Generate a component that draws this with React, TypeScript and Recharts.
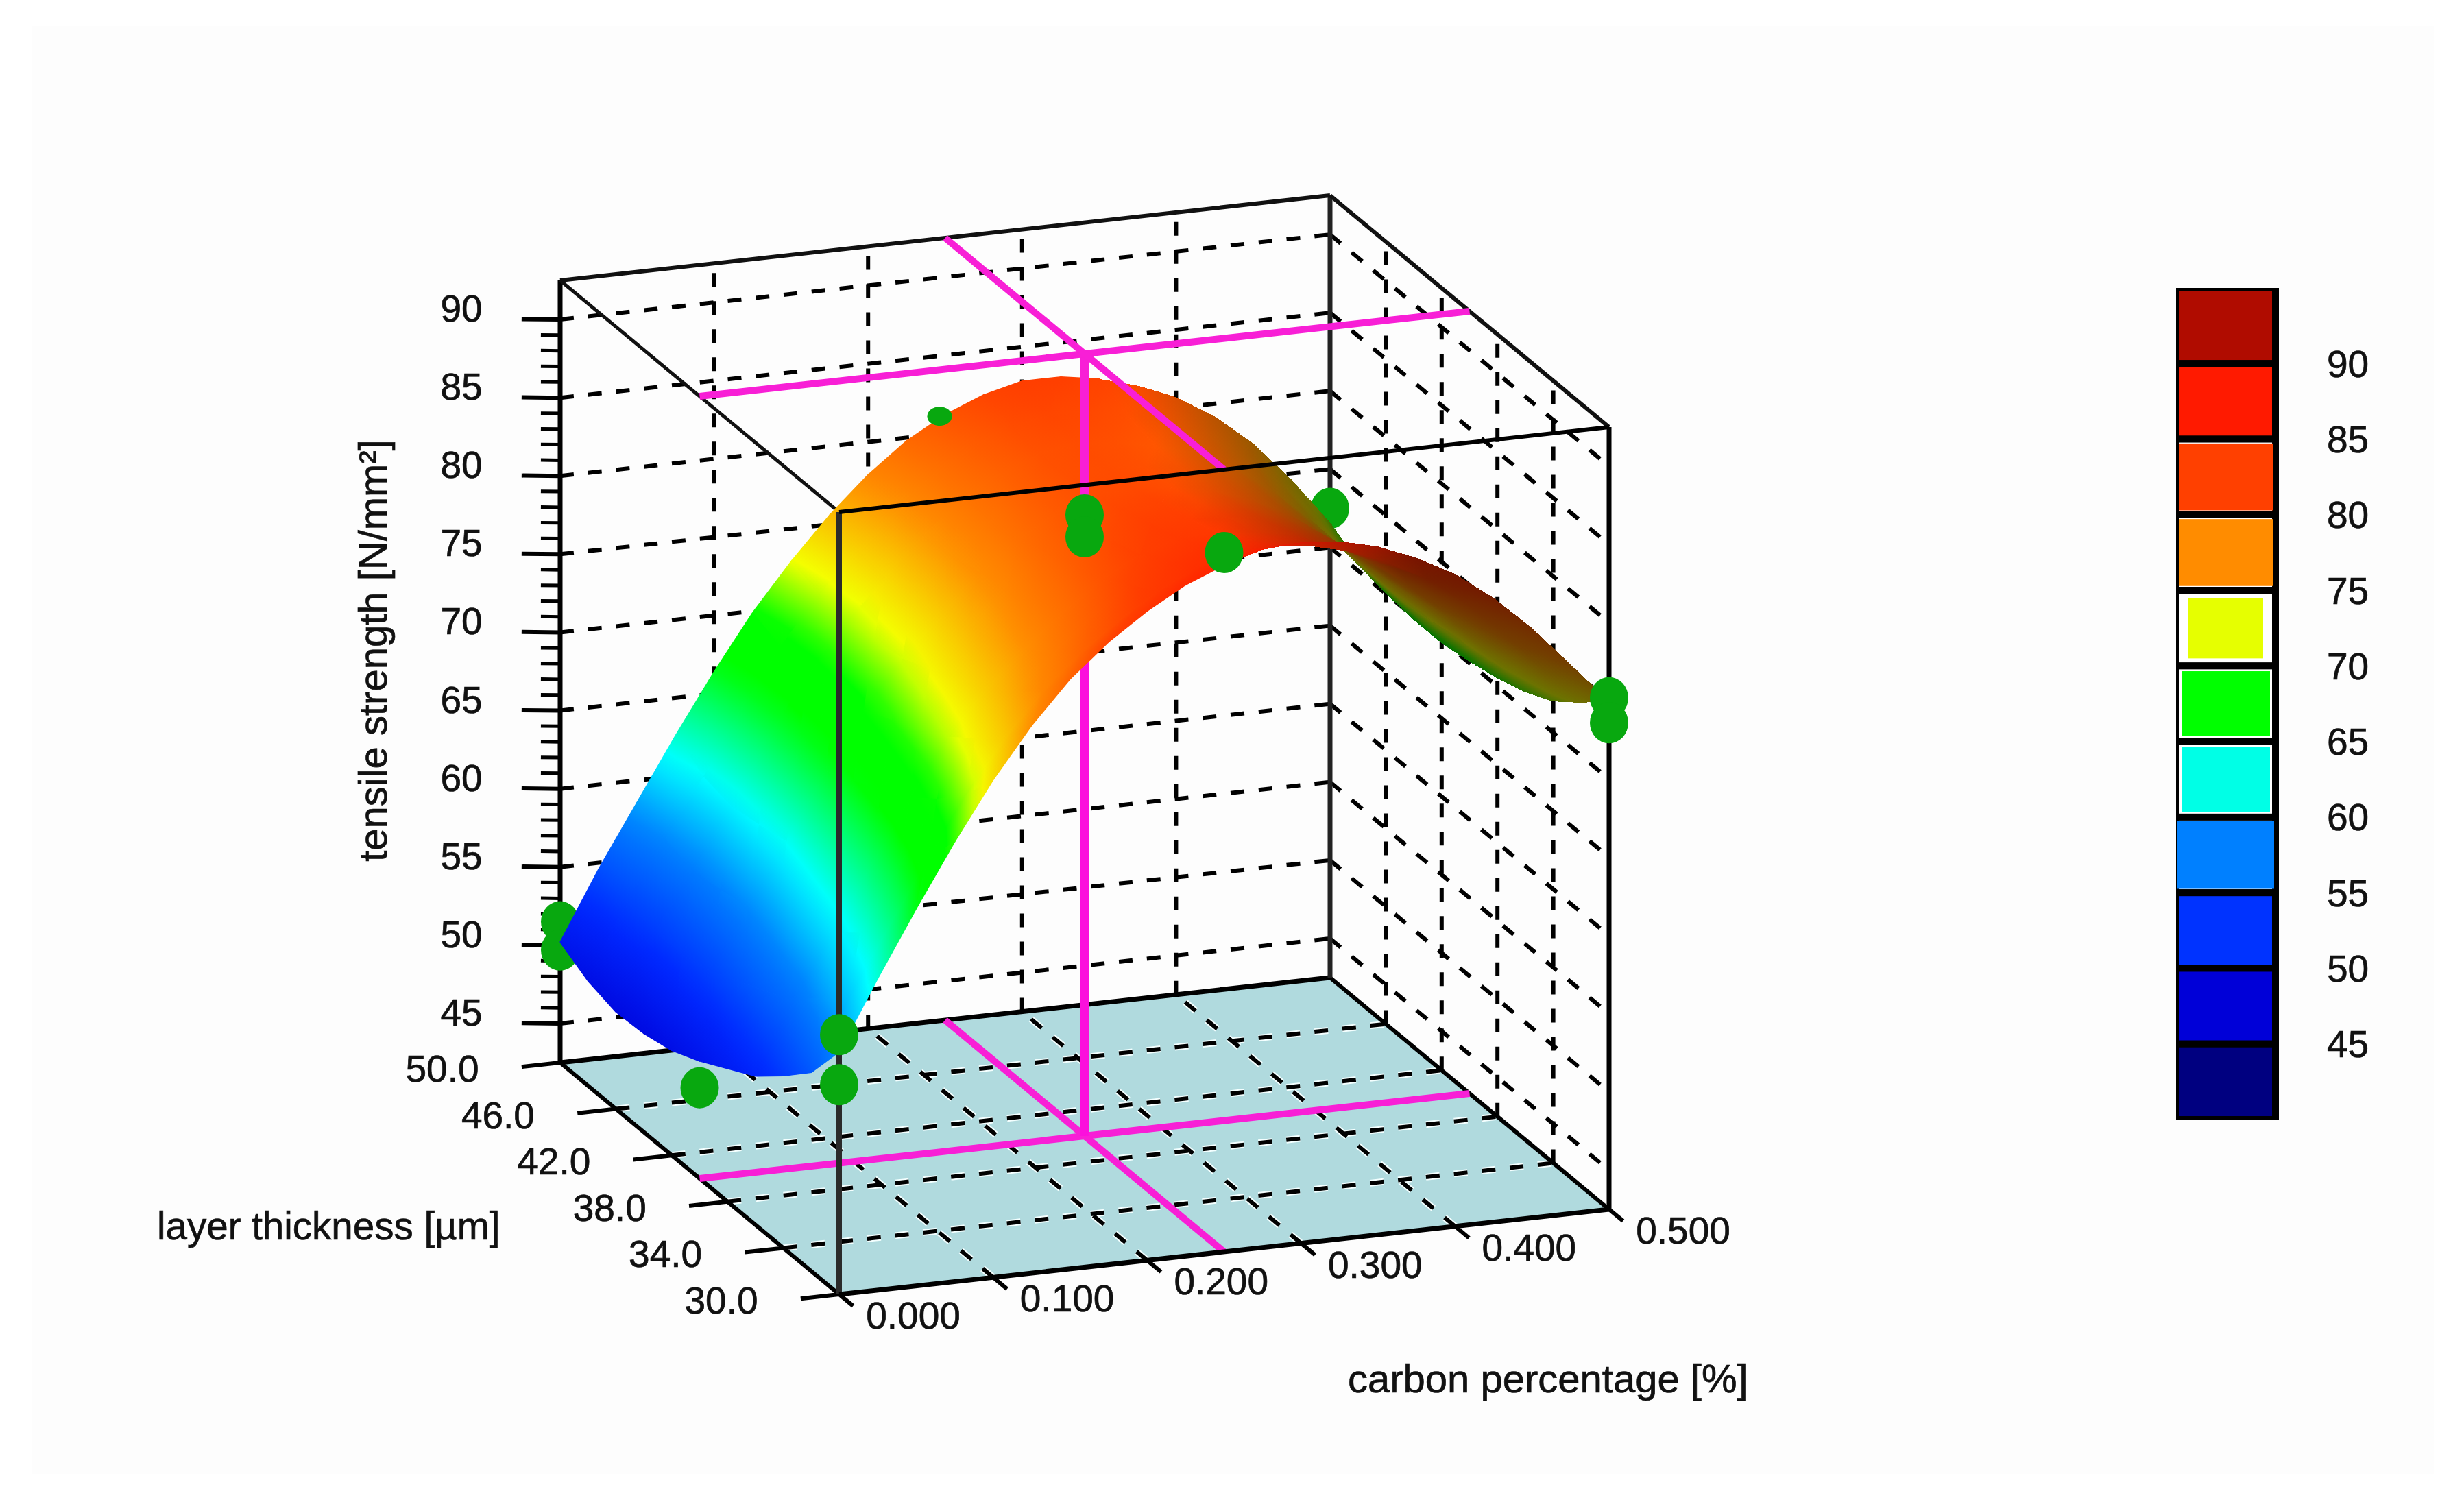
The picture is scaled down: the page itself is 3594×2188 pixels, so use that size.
import React from "react";
import { ReferenceArea, Scatter, ScatterChart, XAxis, YAxis } from "recharts";

const WIDTH = 3594;
const HEIGHT = 2188;
const FONT = "'Liberation Sans', Arial, sans-serif";

// axes of the box
const carbonTicks = [0, 0.1, 0.2, 0.3, 0.4, 0.5];
const carbonLabels = ["0.000", "0.100", "0.200", "0.300", "0.400", "0.500"];
const thicknessTicks = [30, 34, 38, 42, 46, 50];
const thicknessLabels = ["30.0", "34.0", "38.0", "42.0", "46.0", "50.0"];
const strengthTicks = [45, 50, 55, 60, 65, 70, 75, 80, 85, 90];
const strengthMinorTicks = [
  46, 47, 48, 49, 51, 52, 53, 54, 56, 57, 58, 59, 61, 62, 63, 64, 66, 67, 68, 69, 71, 72, 73, 74,
  76, 77, 78, 79, 81, 82, 83, 84, 86, 87, 88, 89,
];

// surface, one row per layer thickness, one value per carbon step
const carbonSteps = [
  0, 0.025, 0.05, 0.075, 0.1, 0.125, 0.15, 0.175, 0.2, 0.225, 0.25, 0.275, 0.3, 0.325, 0.35, 0.375,
  0.4, 0.425, 0.45, 0.475, 0.5,
];
const thicknessSteps = [30, 32, 34, 36, 38, 40, 42, 44, 46, 48, 50];
const t30 = [58, 62.4, 66.6, 70.6, 74.3, 77.5, 80.2, 82.3, 84, 85.4, 86.4, 87.1, 87.3, 87.1, 86.5, 85.5, 84.2, 82.4, 80.2, 77.6, 75];
const t32 = [55.2, 59.8, 63.9, 67.9, 71.8, 75.1, 77.9, 80.1, 81.9, 83.5, 84.7, 85.5, 85.6, 85.3, 84.7, 83.7, 82.4, 80.6, 78.4, 75.8, 73.4];
const t34 = [53.5, 58.2, 62.1, 66.1, 70.1, 73.7, 76.4, 78.6, 80.6, 82.4, 83.7, 84.4, 84.5, 84.2, 83.7, 82.7, 81.5, 79.6, 77.4, 74.8, 72];
const t36 = [52, 56.6, 60.6, 64.6, 68.7, 72.3, 75.1, 77.4, 79.5, 81.3, 82.6, 83.4, 83.5, 83.2, 82.8, 81.8, 80.6, 78.7, 76.5, 73.9, 71.1];
const t38 = [51, 55.7, 59.6, 63.6, 67.7, 71.3, 74.2, 76.6, 78.8, 80.6, 82, 82.8, 82.9, 82.7, 82.2, 81.3, 80.1, 78.2, 76, 73.4, 70.5];
const t40 = [50, 54.8, 58.6, 62.6, 66.8, 70.4, 73.4, 75.8, 78, 80, 81.3, 82.2, 82.4, 82.1, 81.7, 80.8, 79.6, 77.8, 75.6, 73, 70.1];
const t42 = [49.2, 54, 57.8, 61.7, 66, 69.6, 72.6, 75.1, 77.5, 79.4, 80.8, 81.7, 81.9, 81.7, 81.2, 80.4, 79.2, 77.4, 75.3, 72.7, 69.8];
const t44 = [48.8, 53.6, 57.4, 61.3, 65.6, 69.2, 72.3, 74.7, 77.2, 79.1, 80.5, 81.5, 81.7, 81.5, 81.1, 80.3, 79.2, 77.4, 75.3, 72.7, 69.8];
const t46 = [48.7, 53.5, 57.2, 61, 65.4, 68.9, 72, 74.5, 77, 79, 80.3, 81.4, 81.7, 81.5, 81.1, 80.3, 79.2, 77.5, 75.4, 72.8, 70];
const t48 = [49.2, 54, 57.7, 61.4, 65.6, 69.2, 72.2, 74.9, 77.2, 79.2, 80.6, 81.7, 82.1, 82, 81.6, 80.9, 79.8, 78.2, 76.1, 73.5, 70.6];
const t50 = [50.2, 54.6, 58.6, 62.6, 66.4, 69.9, 72.9, 75.6, 77.9, 79.8, 81.2, 82.2, 82.8, 82.8, 82.4, 81.7, 80.7, 79.2, 77.2, 74.6, 71.6];
const surfaceRows = [t30, t32, t34, t36, t38, t40, t42, t44, t46, t48, t50];

// measured design points: [carbon, thickness, strength]
const pointsBehind = [
  [0, 50, 51.5],
  [0, 50, 49.7],
  [0.5, 50, 72.5],
];
const pointsInFront = [
  [0, 40, 48.3],
  [0, 30, 59.1],
  [0, 30, 55.9],
  [0.25, 40, 82.2],
  [0.25, 40, 80.8],
  [0.25, 30, 87.2],
  [0.5, 30, 75.2],
  [0.5, 30, 73.6],
];
const pointsMostlyHidden = [[0.25, 50, 81.1]];

// optimum cross hair
const optimumCarbon = 0.25;
const optimumThickness = 40;
const optimumStrength = 81.5;

// legend bands, top to bottom
const bandLows = [90, 85, 80, 75, 70, 65, 60, 55, 50, 45, 40];
const bandColors = ["#b00c00", "#ff1a00", "#ff4000", "#ff8c00", "#e6ff00", "#00ff00", "#00ffe6", "#0080ff", "#0033ff", "#0000d8", "#000080"];
const bandHalos = [0, 0, 4, 4, 18, 8, 8, 2, 0, 0, 0];

// colour ramp of the surface
const rampLevels = [42.5, 47.5, 52.5, 57.5, 61.5, 67, 70, 73, 77.5, 82.5, 87.5, 92.5];
const rampColors = ["#000080", "#0000d8", "#0028ff", "#0080ff", "#00ffff", "#00ff00", "#00ff00", "#f4ff00", "#ff8c00", "#ff4000", "#ff1a00", "#b00c00"];

const Z_FLOOR = 42.5;
const Z_TOP = 92.5;

type Pt = { x: number; y: number };

function project(carbon: number, thickness: number, strength: number): Pt {
  return {
    x: 1224 + (carbon / 0.5) * 1123 - ((thickness - 30) / 20) * 407,
    y: 1888 - (carbon / 0.5) * 124 - ((thickness - 30) / 20) * 338 - (strength - Z_FLOOR) * 22.82,
  };
}

function hexToRgb(hex: string) {
  return [1, 3, 5].map((i) => parseInt(hex.slice(i, i + 2), 16));
}

function colorFor(strength: number) {
  let i = 0;
  while (i < rampLevels.length - 2 && strength > rampLevels[i + 1]) i++;
  const f = Math.min(Math.max((strength - rampLevels[i]) / (rampLevels[i + 1] - rampLevels[i]), 0), 1);
  const a = hexToRgb(rampColors[i]);
  const b = hexToRgb(rampColors[i + 1]);
  const rgb = a.map((v, k) => Math.round(v + (b[k] - v) * f));
  return `rgb(${rgb[0]},${rgb[1]},${rgb[2]})`;
}

// the far slope turns away from the light
function shadeFor(carbon: number, thickness: number) {
  const start = 0.27 + (thickness - 30) * 0.005;
  return Math.max(0.45, 1 - Math.max(0, carbon - start) * 5);
}

// gradient vector of a value that is linear over a screen triangle
function gradientLine(p: Pt[], v: number[]) {
  const dx1 = p[1].x - p[0].x;
  const dy1 = p[1].y - p[0].y;
  const dx2 = p[2].x - p[0].x;
  const dy2 = p[2].y - p[0].y;
  const det = dx1 * dy2 - dx2 * dy1;
  const lo = v.indexOf(Math.min(...v));
  const range = Math.max(...v) - Math.min(...v);
  if (Math.abs(det) < 1 || range < 0.001) return { x1: p[lo].x, y1: p[lo].y, x2: p[lo].x + 1, y2: p[lo].y };
  const dv1 = v[1] - v[0];
  const dv2 = v[2] - v[0];
  const gx = (dv1 * dy2 - dv2 * dy1) / det;
  const gy = (dx1 * dv2 - dx2 * dv1) / det;
  const s = range / (gx * gx + gy * gy);
  return { x1: p[lo].x, y1: p[lo].y, x2: p[lo].x + gx * s, y2: p[lo].y + gy * s };
}

type Tri = {
  id: string;
  corners: Pt[];
  line: { x1: number; y1: number; x2: number; y2: number };
  stops: { offset: number; color: string }[];
  shadeLine: { x1: number; y1: number; x2: number; y2: number } | null;
  shadeLo: number;
  shadeHi: number;
};

function makeTri(id: string, cells: number[][]): Tri {
  const corners = cells.map((n) => project(n[0], n[1], n[2]));
  const zs = cells.map((n) => n[2]);
  const zMin = Math.min(...zs);
  const zMax = Math.max(...zs);
  const count = Math.max(2, Math.ceil(zMax - zMin) + 1);
  const stops = [];
  for (let i = 0; i < count; i++) {
    const f = i / (count - 1);
    stops.push({ offset: f, color: colorFor(zMin + (zMax - zMin) * f) });
  }
  const shades = cells.map((n) => shadeFor(n[0], n[1]));
  const shaded = Math.min(...shades) < 1;
  return {
    id,
    corners: [...corners, corners[0]],
    line: gradientLine(corners, zs),
    stops,
    shadeLine: shaded ? gradientLine(corners, shades) : null,
    shadeLo: Math.min(...shades),
    shadeHi: Math.max(...shades),
  };
}

// back to front so the nearer part of the surface covers the rest
function buildTris() {
  const tris: Tri[] = [];
  for (let r = thicknessSteps.length - 2; r >= 0; r--) {
    for (let c = carbonSteps.length - 2; c >= 0; c--) {
      const a = [carbonSteps[c], thicknessSteps[r], surfaceRows[r][c]];
      const b = [carbonSteps[c + 1], thicknessSteps[r], surfaceRows[r][c + 1]];
      const d = [carbonSteps[c + 1], thicknessSteps[r + 1], surfaceRows[r + 1][c + 1]];
      const e = [carbonSteps[c], thicknessSteps[r + 1], surfaceRows[r + 1][c]];
      tris.push(makeTri(`a${r}-${c}`, [e, d, a]));
      tris.push(makeTri(`b${r}-${c}`, [d, b, a]));
    }
  }
  return tris;
}
const tris = buildTris();

const noDot = () => null;
const DASH = "20 21";

function seg(key: string, from: number[], to: number[], stroke: string, strokeWidth: number, dash?: string) {
  return (
    <Scatter
      key={key}
      data={[project(from[0], from[1], from[2]), project(to[0], to[1], to[2])]}
      line={{ stroke, strokeWidth, strokeDasharray: dash, fill: "none" }}
      lineJointType="linear"
      shape={noDot}
      isAnimationActive={false}
    />
  );
}

function labels(key: string, points: { x: number; y: number; text: string }[], dx: number, dy: number) {
  return (
    <Scatter
      key={key}
      data={points}
      isAnimationActive={false}
      shape={(p: any) => (
        <text x={p.cx + dx} y={p.cy + dy} textAnchor="middle" dominantBaseline="central" fontFamily={FONT} fontSize={55} fill="#111" stroke="#111" strokeWidth={0.7}>
          {p.payload.text}
        </text>
      )}
    />
  );
}

const blob = (p: any) => <ellipse cx={p.cx} cy={p.cy} rx={28} ry={30} fill="#08a80f" />;
const smallBlob = (p: any) => <ellipse cx={p.cx - 8} cy={p.cy} rx={18} ry={14} fill="#08a80f" />;

function bandShape(color: string, halo: number) {
  return (p: any) => (
    <g>
      <rect x={p.x} y={p.y} width={p.width} height={p.height} fill={halo ? "#ffffff" : color} stroke="#000" strokeWidth={10} />
      {halo > 0 && (
        <rect x={p.x + halo} y={p.y + 5 + halo / 3} width={p.width - halo * 2} height={p.height - 10 - (halo * 2) / 3} fill={color} />
      )}
    </g>
  );
}

function Legend3D() {
  return (
    <div style={{ position: "absolute", left: 3174, top: 420 }}>
      <ScatterChart width={345} height={1213} margin={{ top: 0, right: 0, bottom: 0, left: 0 }}>
        <XAxis type="number" dataKey="x" domain={[0, 1]} hide />
        <YAxis
          type="number"
          dataKey="y"
          orientation="right"
          width={200}
          domain={[40, 95]}
          ticks={strengthTicks}
          interval={0}
          axisLine={false}
          tickLine={false}
          tickSize={0}
          tickMargin={75}
          tick={{ fontFamily: FONT, fontSize: 55, fill: "#111", stroke: "#111", strokeWidth: 0.7 }}
          tickFormatter={(v: number) => String(v)}
        />
        {bandLows.map((low, i) => (
          <ReferenceArea key={low} x1={0} x2={1} y1={low} y2={low + 5} ifOverflow="visible" shape={bandShape(bandColors[i], bandHalos[i])} />
        ))}
        <Scatter data={bandLows.map((low) => ({ x: 0, y: low }))} shape={noDot} isAnimationActive={false} />
      </ScatterChart>
    </div>
  );
}

export default function App() {
  const floorCorners = [project(0, 30, Z_FLOOR), project(0.5, 30, Z_FLOOR), project(0.5, 50, Z_FLOOR), project(0, 50, Z_FLOOR), project(0, 30, Z_FLOOR)];
  return (
    <div style={{ position: "absolute", left: 0, top: 0, width: WIDTH, height: HEIGHT, background: "#fff", overflow: "hidden" }}>
      <div style={{ position: "absolute", left: 47, top: 38, width: 3503, height: 2112, background: "#fdfdfd" }} />
      <div style={{ position: "absolute", left: 0, top: 0 }}>
        <ScatterChart width={WIDTH} height={HEIGHT} margin={{ top: 0, right: 0, bottom: 0, left: 0 }}>
          <defs>
            {tris.map((q) => (
              <linearGradient key={q.id} id={q.id} gradientUnits="userSpaceOnUse" {...q.line}>
                {q.stops.map((s) => (
                  <stop key={s.offset} offset={s.offset} stopColor={s.color} />
                ))}
              </linearGradient>
            ))}
            {tris
              .filter((q) => q.shadeLine)
              .map((q) => (
                <linearGradient key={q.id} id={`s${q.id}`} gradientUnits="userSpaceOnUse" {...q.shadeLine}>
                  <stop offset="0" stopColor="#000" stopOpacity={1 - q.shadeLo} />
                  <stop offset="1" stopColor="#000" stopOpacity={1 - q.shadeHi} />
                </linearGradient>
              ))}
          </defs>
          <XAxis type="number" dataKey="x" domain={[0, WIDTH]} hide allowDataOverflow />
          <YAxis type="number" dataKey="y" domain={[0, HEIGHT]} reversed hide allowDataOverflow />

          {/* floor */}
          <Scatter data={floorCorners} line={{ fill: "#b0dade", stroke: "none" }} lineJointType="linear" shape={noDot} isAnimationActive={false} />

          {/* back walls */}
          {strengthTicks.map((z) => seg(`wl${z}`, [0, 50, z], [0.5, 50, z], "#000", 6, DASH))}
          {strengthTicks.map((z) => seg(`wr${z}`, [0.5, 50, z], [0.5, 30, z], "#000", 6, DASH))}
          {carbonTicks.slice(1, 5).map((c) => seg(`wv${c}`, [c, 50, Z_FLOOR], [c, 50, Z_TOP], "#000", 6, DASH))}
          {thicknessTicks.slice(1, 5).map((t) => seg(`wh${t}`, [0.5, t, Z_FLOOR], [0.5, t, Z_TOP], "#000", 6, DASH))}

          {/* floor grid */}
          {carbonTicks.slice(1, 5).map((c) => seg(`hc${c}`, [c, 30, Z_FLOOR], [c, 50, Z_FLOOR], "#f4ffff", 10, DASH))}
          {thicknessTicks.slice(1, 5).map((t) => seg(`ht${t}`, [0, t, Z_FLOOR], [0.5, t, Z_FLOOR], "#f4ffff", 10, DASH))}
          {carbonTicks.slice(1, 5).map((c) => seg(`fc${c}`, [c, 30, Z_FLOOR], [c, 50, Z_FLOOR], "#000", 6, DASH))}
          {thicknessTicks.slice(1, 5).map((t) => seg(`ft${t}`, [0, t, Z_FLOOR], [0.5, t, Z_FLOOR], "#000", 6, DASH))}

          {/* box edges behind the surface */}
          {seg("b1", [0, 50, Z_FLOOR], [0.5, 50, Z_FLOOR], "#000", 7)}
          {seg("b2", [0.5, 50, Z_FLOOR], [0.5, 30, Z_FLOOR], "#000", 6)}
          {seg("b3", [0, 50, Z_FLOOR], [0, 50, Z_TOP], "#000", 7)}
          {seg("b4", [0.5, 50, Z_FLOOR], [0.5, 50, Z_TOP], "#222", 7)}
          {seg("b5", [0.5, 30, Z_FLOOR], [0.5, 30, Z_TOP], "#000", 7)}
          {seg("b6", [0, 50, Z_TOP], [0.5, 50, Z_TOP], "#111", 6)}
          {seg("b7", [0.5, 50, Z_TOP], [0.5, 30, Z_TOP], "#111", 6)}
          {seg("b8", [0, 30, Z_TOP], [0, 50, Z_TOP], "#111", 5)}
          {seg("b9", [0, 30, Z_FLOOR], [0, 50, Z_FLOOR], "#000", 6)}

          {/* ticks */}
          {strengthTicks.map((z) => seg(`zt${z}`, [0, 50, z], [-0.025, 50, z + 0.3], "#000", 6))}
          {strengthMinorTicks.map((z) => seg(`zm${z}`, [0, 50, z], [-0.0125, 50, z + 0.15], "#000", 5))}
          {thicknessTicks.map((t) => seg(`tt${t}`, [0, t, Z_FLOOR], [-0.025, t, Z_FLOOR], "#000", 6))}
          {carbonTicks.map((c) => seg(`ct${c}`, [c, 30, Z_FLOOR], [c, 29, Z_FLOOR], "#000", 6))}

          {/* cross hair below the surface */}
          {seg("m1", [0, optimumThickness, Z_FLOOR], [0.5, optimumThickness, Z_FLOOR], "#f81fd6", 10)}
          {seg("m2", [optimumCarbon, 30, Z_FLOOR], [optimumCarbon, 50, Z_FLOOR], "#f81fd6", 10)}
          {seg("m3", [optimumCarbon, optimumThickness, Z_FLOOR], [optimumCarbon, optimumThickness, optimumStrength], "#fb10dc", 12)}

          <Scatter data={pointsBehind.map((p) => project(p[0], p[1], p[2]))} shape={blob} isAnimationActive={false} />

          {/* surface */}
          {tris.map((q) => (
            <React.Fragment key={q.id}>
              <Scatter
                data={q.corners}
                line={
                  q.shadeLine
                    ? { fill: `url(#${q.id})`, stroke: "none", shapeRendering: "crispEdges" }
                    : { fill: `url(#${q.id})`, stroke: `url(#${q.id})`, strokeWidth: 1.5 }
                }
                lineJointType="linear"
                shape={noDot}
                isAnimationActive={false}
              />
              {q.shadeLine && (
                <Scatter
                  data={q.corners}
                  line={{ fill: `url(#s${q.id})`, stroke: "none", shapeRendering: "crispEdges" }}
                  lineJointType="linear"
                  shape={noDot}
                  isAnimationActive={false}
                />
              )}
            </React.Fragment>
          ))}

          <Scatter data={pointsMostlyHidden.map((p) => project(p[0], p[1], p[2]))} shape={smallBlob} isAnimationActive={false} />

          {/* front of the box and upper cross hair */}
          {seg("m4", [optimumCarbon, optimumThickness, optimumStrength], [optimumCarbon, optimumThickness, Z_TOP], "#f81fd6", 12)}
          {seg("m5", [0, optimumThickness, Z_TOP], [0.5, optimumThickness, Z_TOP], "#f81fd6", 10)}
          {seg("m6", [optimumCarbon, 30, Z_TOP], [optimumCarbon, 50, Z_TOP], "#f81fd6", 10)}
          {seg("f1", [0, 30, Z_FLOOR], [0, 30, Z_TOP], "#2a2a2a", 8)}
          {seg("f2", [0, 30, Z_TOP], [0.5, 30, Z_TOP], "#000", 6)}
          {seg("f3", [0, 30, Z_FLOOR], [0.5, 30, Z_FLOOR], "#000", 7)}

          <Scatter data={pointsInFront.map((p) => project(p[0], p[1], p[2]))} shape={blob} isAnimationActive={false} />

          {/* tick labels */}
          {labels("zl", strengthTicks.map((z) => ({ ...project(0, 50, z), text: String(z) })), -144, -16)}
          {labels("tl", thicknessTicks.map((t, i) => ({ ...project(0, t, Z_FLOOR), text: thicknessLabels[i] })), -172, 9)}
          {labels("cl", carbonTicks.map((c, i) => ({ ...project(c, 30, Z_FLOOR), text: carbonLabels[i] })), 108, 31)}
        </ScatterChart>
      </div>

      <Legend3D />

      {/* axis titles */}
      <svg width={WIDTH} height={HEIGHT} style={{ position: "absolute", left: 0, top: 0, pointerEvents: "none" }}>
        <g fontFamily={FONT} fill="#111" stroke="#111" strokeWidth={0.7}>
          <text x={229} y={1788} dominantBaseline="central" fontSize={56.5}>
            layer thickness [µm]
          </text>
          <text x={1966} y={2010} dominantBaseline="central" fontSize={58}>
            carbon percentage [%]
          </text>
          <text transform="translate(543 949) rotate(-90)" textAnchor="middle" dominantBaseline="central" fontSize={58}>
            tensile strength [N/mm²]
          </text>
        </g>
      </svg>
    </div>
  );
}
